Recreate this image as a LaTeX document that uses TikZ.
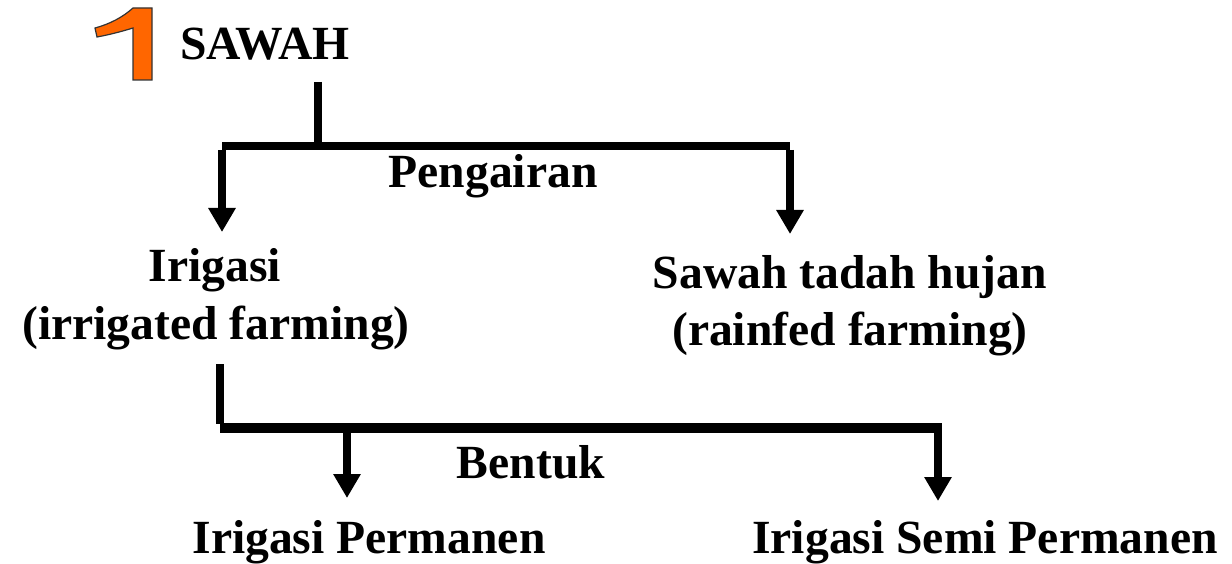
\documentclass[tikz,border=0pt]{standalone}
\usepackage{fontspec}
\setmainfont{Liberation Serif}
\usetikzlibrary{arrows.meta}
\definecolor{onecol}{HTML}{FF6600}
\begin{document}
\begin{tikzpicture}[x=1pt,y=-1pt,
  lbl/.style={font=\fontsize{47.6}{56}\selectfont\bfseries, anchor=base, inner sep=0pt},
  conn/.style={line width=8pt},
  arr/.style={line width=8pt, -{Triangle[width=26pt,length=24pt]}}]
\useasboundingbox (0,0) rectangle (1232,564);
% the orange "1"
\fill[onecol, draw=black!80, line width=1.2pt]
  (133,8) -- (152,8) -- (152,80) -- (133,80) -- (133,28)
  .. controls (120,32) and (108,35) .. (97,37)
  -- (95,28) .. controls (110,24) and (123,17) .. (133,8) -- cycle;
\node[lbl] (sawah) at (265,60) {SAWAH};
\node[lbl] (peng) at (493,188) {Pengairan};
\node[lbl] (irig) at (215,282) {Irigasi};
\node[lbl] (irig2) at (216,339) {(irrigated farming)};
\node[lbl] (tadah) at (850,288) {Sawah tadah hujan};
\node[lbl] (tadah2) at (850,345) {(rainfed farming)};
\node[lbl] (bentuk) at (531,478) {Bentuk};
\node[lbl] (perm) at (369,553) {Irigasi Permanen};
\node[lbl] (semi) at (985,553) {Irigasi Semi Permanen};
% junction coordinates
\coordinate (s0) at (318,82);
\coordinate (j1) at (318,146);
\coordinate (l1) at (222,146);
\coordinate (r1) at (790,146);
\coordinate (la) at (222,232);
\coordinate (ra) at (790,234);
\coordinate (i0) at (220,364);
\coordinate (j2) at (220,428);
\coordinate (p1) at (347,428);
\coordinate (q1) at (938,428);
\coordinate (pa) at (347,498);
\coordinate (qa) at (938,501);
\draw[conn] (s0) -- (j1);
\draw[conn] (l1) -- (r1);
\draw[arr] ([yshift=-4pt]l1) -- (la);
\draw[arr] ([yshift=-4pt]r1) -- (ra);
\draw[conn] (i0) -- ([yshift=4pt]j2);
\draw[line width=10pt] (j2) -- ([xshift=4pt]q1);
\draw[arr] (p1) -- (pa);
\draw[arr] (q1) -- (qa);
\end{tikzpicture}
\end{document}
